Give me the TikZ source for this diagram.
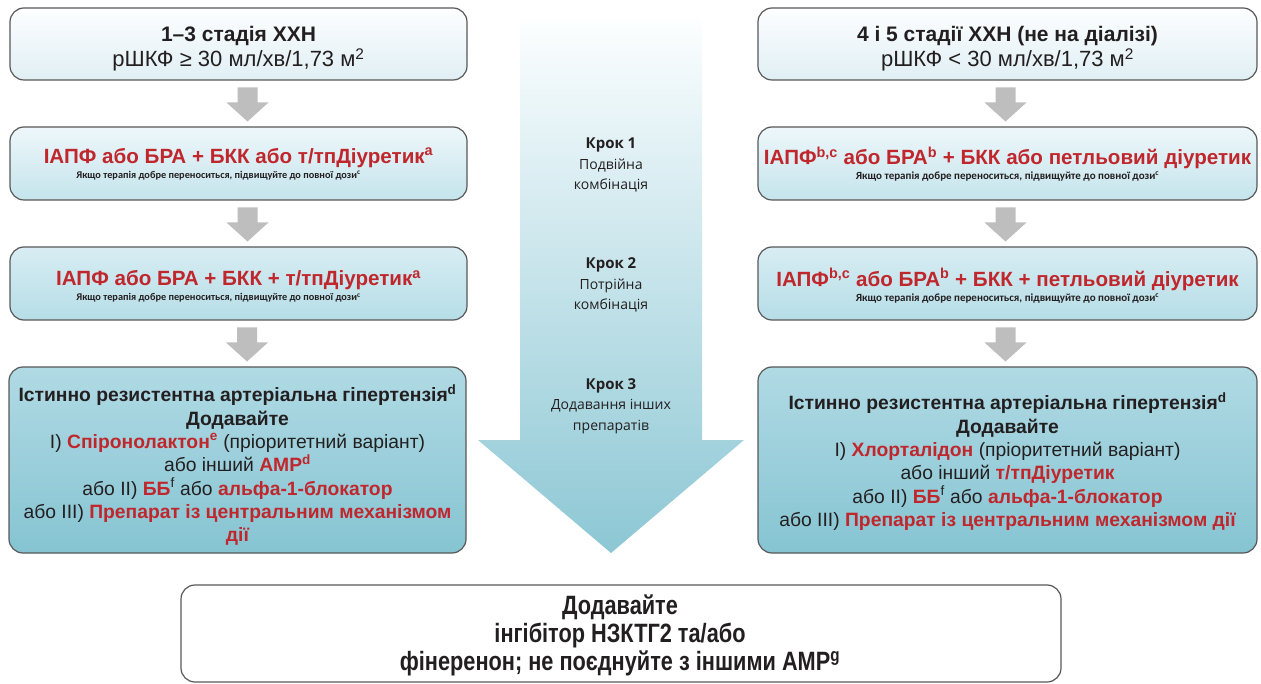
\documentclass[tikz,border=0pt]{standalone}
\usepackage{fontspec}
\setmainfont{Liberation Sans}
\newfontfamily\stepfont{Open Sans}
\newfontfamily\notefont{Carlito}
\newfontfamily\narrowfont[FakeStretch=0.82]{Liberation Sans}
\usetikzlibrary{calc}

\definecolor{hl}{RGB}{192,39,45}
\definecolor{ink}{RGB}{35,31,32}
\definecolor{frame}{RGB}{88,88,88}
\definecolor{stageT}{RGB}{253,254,255}
\definecolor{stageB}{RGB}{224,239,244}
\definecolor{dualT}{RGB}{238,247,250}
\definecolor{dualB}{RGB}{196,228,236}
\definecolor{tripT}{RGB}{216,237,243}
\definecolor{tripB}{RGB}{182,221,231}
\definecolor{resT}{RGB}{176,218,228}
\definecolor{resB}{RGB}{134,196,210}
\definecolor{flowT}{RGB}{252,254,255}
\definecolor{flowB}{RGB}{140,199,212}
\definecolor{steparrow}{RGB}{190,190,190}

\newcommand\hlb[1]{\textcolor{hl}{\bfseries #1}}
\newcommand\dosenote[1]{{\notefont\bfseries\fontsize{#1}{12}\selectfont Якщо терапія добре переноситься, підвищуйте до повної дози\textsuperscript{c}}}

% grey block arrow between two stacked boxes
\newcommand\stepdown[3]{%
  \path ($(#1.south)!0.5!(#2.north)+(#3,0)$) coordinate (m);
  \fill[steparrow] ($(m)+(-10,-16)$) -- ($(m)+(10,-16)$) -- ($(m)+(10,-1)$)
    -- ($(m)+(21,-1)$) -- ($(m)+(0,18)$) -- ($(m)+(-21,-1)$) -- ($(m)+(-10,-1)$) -- cycle;
}

\tikzset{
  box/.style={draw=frame, line width=1.2pt, rounded corners=14pt, inner sep=0pt},
  leftw/.style={minimum width=457},
  rightw/.style={minimum width=499},
  stagebox/.style={box, top color=stageT, bottom color=stageB, minimum height=72},
  dualbox/.style={box, top color=dualT, bottom color=dualB, minimum height=73},
  tripbox/.style={box, top color=tripT, bottom color=tripB, minimum height=73},
  resbox/.style={box, top color=resT, bottom color=resB, minimum height=186},
  finalbox/.style={box, fill=white, minimum width=880, minimum height=97},
  boxtext/.style={align=center, inner sep=0pt, text=ink},
  stagetext/.style={boxtext, font=\fontsize{21}{25}\selectfont},
  combotext/.style={boxtext, font=\fontsize{20.6}{16}\selectfont},
  restext/.style={boxtext, font=\fontsize{19.3}{23.3}\selectfont},
  finaltext/.style={boxtext, font=\narrowfont\bfseries\fontsize{26.5}{28}\selectfont},
  steplabel/.style={align=center, text=ink, inner sep=0pt,
    font=\stepfont\fontsize{14}{20.5}\selectfont},
}

\begin{document}
\begin{tikzpicture}[x=1pt,y=-1pt]
\useasboundingbox (0,0) rectangle (1261,684);

% central progression arrow
\shade[top color=flowT, bottom color=flowB]
  (520,20) -- (702,20) -- (702,440) -- (744,440) -- (611,553)
  -- (478,440) -- (520,440) -- cycle;

\node[steplabel] (k1) at (611,165) {{\bfseries\fontsize{15}{20}\selectfont Крок 1}\\Подвійна\\комбінація};
\node[steplabel] (k2) at (611,285) {{\bfseries\fontsize{15}{20}\selectfont Крок 2}\\Потрійна\\комбінація};
\node[steplabel] (k3) at (611,406) {{\bfseries\fontsize{15}{20}\selectfont Крок 3}\\Додавання інших\\препаратів};

% left column: CKD stages 1-3
\node[stagebox, leftw] (l1) at (238.5,44) {};
\node[dualbox, leftw] (l2) at (238.5,163.5) {};
\node[tripbox, leftw] (l3) at (238.5,283.5) {};
\node[resbox, leftw] (l4) at (237.5,460) {};

\node[stagetext] (l1t) at ($(l1.center)+(0,5)$)
  {\bfseries 1–3 стадія ХХН\\{\fontsize{22}{25}\selectfont рШКФ ≥ 30 мл/хв/1,73 м\textsuperscript{2}}};
\node[combotext] (l2t) at ($(l2.center)+(0,0.5)$)
  {\hlb{ІАПФ або БРА + БКК або т/тпДіуретик\textsuperscript{a}}\\[-1pt]\dosenote{10.3}\hspace*{40pt}};
\node[combotext] (l3t) at ($(l3.center)+(0,3)$)
  {\hlb{ІАПФ або БРА + БКК + т/тпДіуретик\textsuperscript{a}}\\[-1pt]\dosenote{10.3}\hspace*{40pt}};
\node[restext] (l4t) at ($(l4.center)+(0,5)$)
  {\bfseries Істинно резистентна артеріальна гіпертензія\textsuperscript{d}\\
   \bfseries Додавайте\\
   I) \hlb{Спіронолактон\textsuperscript{e}} (пріоритетний варіант)\\
   або інший \hlb{АМР\textsuperscript{d}}\\
   або II) \hlb{ББ}\textsuperscript{f} або \hlb{альфа-1-блокатор}\\
   або III) \hlb{Препарат із центральним механізмом}\\
   \hlb{дії}};

% right column: CKD stages 4 and 5
\node[stagebox, rightw] (r1) at (1007.5,44) {};
\node[dualbox, rightw] (r2) at (1007.5,163.5) {};
\node[tripbox, rightw] (r3) at (1007.5,283.5) {};
\node[resbox, rightw] (r4) at (1007.5,460) {};

\node[stagetext] (r1t) at ($(r1.center)+(0,5)$)
  {\bfseries 4 і 5 стадії ХХН (не на діалізі)\\{\fontsize{22}{25}\selectfont рШКФ < 30 мл/хв/1,73 м\textsuperscript{2}}};
\node[combotext] (r2t) at ($(r2.center)+(0,0.5)$)
  {\hlb{ІАПФ\textsuperscript{b,c} або БРА\textsuperscript{b} + БКК або петльовий діуретик}\\[-1pt]\dosenote{11}};
\node[combotext] (r3t) at ($(r3.center)+(0,2)$)
  {\hlb{ІАПФ\textsuperscript{b,c} або БРА\textsuperscript{b} + БКК + петльовий діуретик}\\[-1pt]\dosenote{11}};
\node[restext] (r4t) at ($(r4.center)+(0,1.5)$)
  {\bfseries Істинно резистентна артеріальна гіпертензія\textsuperscript{d}\\
   \bfseries Додавайте\\
   I) \hlb{Хлорталідон} (пріоритетний варіант)\\
   або інший \hlb{т/тпДіуретик}\\
   або II) \hlb{ББ}\textsuperscript{f} або \hlb{альфа-1-блокатор}\\
   або III) \hlb{Препарат із центральним механізмом дії}};

% common final step
\node[finalbox] (fin) at (621,633.5) {};
\node[finaltext] (fint) at ($(fin.center)+(-1,2)$)
  {Додавайте\\інгібітор НЗКТГ2 та/або\\фінеренон; не поєднуйте з іншими АМР\textsuperscript{g}};

% grey step arrows
\stepdown{l1}{l2}{9}
\stepdown{l2}{l3}{9}
\stepdown{l3}{l4}{9}
\stepdown{r1}{r2}{-2}
\stepdown{r2}{r3}{-2}
\stepdown{r3}{r4}{-2}
\end{tikzpicture}
\end{document}
